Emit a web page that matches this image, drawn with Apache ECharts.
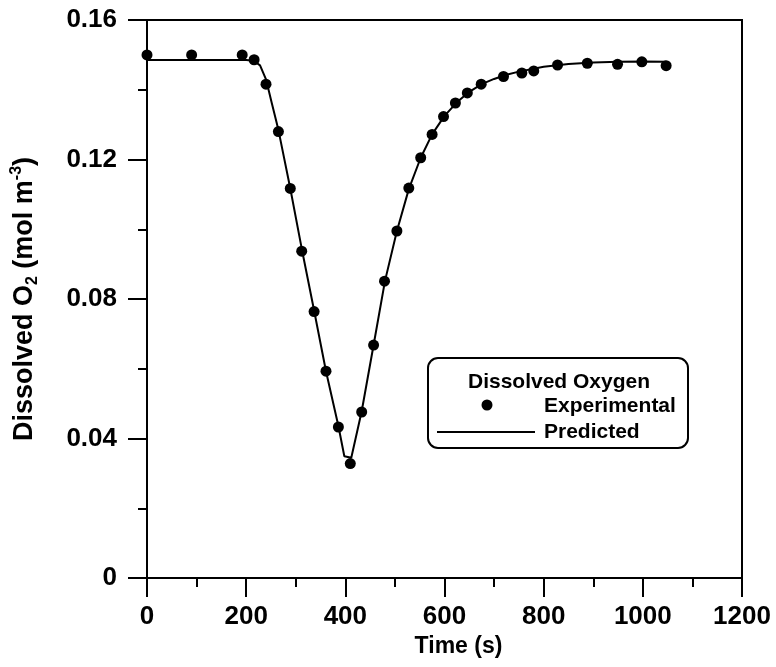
<!DOCTYPE html>
<html>
<head>
<meta charset="utf-8">
<script src="https://cdn.jsdelivr.net/npm/echarts@6/dist/echarts.min.js"></script>
<style>html,body{margin:0;padding:0;background:#fff;}#chart{width:776px;height:667px;}</style>
</head>
<body>
<div id="chart"></div>
<script>
const timeExp = [0, 90, 192, 216, 240, 265, 289, 312, 337, 361, 386, 410, 433, 457, 479, 504, 528, 552, 575, 598, 622, 646, 674, 719, 756, 780, 828, 888, 949, 998, 1047];
const o2Exp = [0.150, 0.150, 0.150, 0.1486, 0.1416, 0.128, 0.1117, 0.0937, 0.0764, 0.0593, 0.0433, 0.0328, 0.0476, 0.0668, 0.0851, 0.0995, 0.1118, 0.1205, 0.1272, 0.1323, 0.1362, 0.1391, 0.1416, 0.1438, 0.1448, 0.1454, 0.1471, 0.1476, 0.1473, 0.1480, 0.1469];
const timePred = [0, 200, 215, 228, 240, 252, 265, 289, 312, 337, 361, 386, 398, 412, 433, 457, 480, 504, 528, 552, 575, 600, 625, 650, 675, 700, 725, 750, 800, 850, 900, 950, 1000, 1047];
const o2Pred = [0.1485, 0.1485, 0.1483, 0.1470, 0.1430, 0.1360, 0.1285, 0.1117, 0.0945, 0.0767, 0.0593, 0.0436, 0.0349, 0.0345, 0.0478, 0.0668, 0.0852, 0.0995, 0.1115, 0.1205, 0.1272, 0.1325, 0.1364, 0.1394, 0.1416, 0.1431, 0.1443, 0.1452, 0.1466, 0.1474, 0.1478, 0.1480, 0.1481, 0.1480];
const xTicks = {min: 0, max: 1200, interval: 200};
const yTicks = {min: 0, max: 0.16, interval: 0.04};

const chart = echarts.init(document.getElementById('chart'));
const FONT = 'Liberation Sans, Arial, sans-serif';
const axisCommon = {
  axisLine: {show: true, lineStyle: {color: '#000', width: 2}},
  axisTick: {show: true, inside: false, length: 19, lineStyle: {color: '#000', width: 2}},
  minorTick: {show: true, splitNumber: 2, length: 9, lineStyle: {color: '#000', width: 2}},
  splitLine: {show: false},
  minorSplitLine: {show: false}
};
chart.setOption({
  animation: false,
  backgroundColor: '#fff',
  grid: {left: 147, right: 34, top: 20, bottom: 89, show: true, borderColor: '#000', borderWidth: 2, backgroundColor: 'transparent'},
  xAxis: Object.assign({
    type: 'value', min: xTicks.min, max: xTicks.max, interval: xTicks.interval,
    name: 'Time (s)', nameLocation: 'middle', nameGap: 50,
    nameTextStyle: {fontFamily: FONT, fontWeight: 'bold', fontSize: 23, color: '#000', padding: [0, 0, 0, 28]},
    axisLabel: {margin: 26, fontFamily: FONT, fontWeight: 'bold', fontSize: 26, color: '#000',
      formatter: v => String(v)}
  }, axisCommon),
  yAxis: Object.assign({
    type: 'value', min: yTicks.min, max: yTicks.max, interval: yTicks.interval,
    name: '{m|Dissolved O}{sub|2}{m| (mol m}{sup|-3}{m|)}', nameLocation: 'middle', nameGap: 106,
    nameTextStyle: {
      fontFamily: FONT, fontWeight: 'bold', fontSize: 27, color: '#000',
      rich: {
        m: {fontFamily: FONT, fontWeight: 'bold', fontSize: 27, color: '#000', lineHeight: 32},
        sub: {fontFamily: FONT, fontWeight: 'bold', fontSize: 16, color: '#000', verticalAlign: 'bottom', lineHeight: 32},
        sup: {fontFamily: FONT, fontWeight: 'bold', fontSize: 16, color: '#000', verticalAlign: 'top', lineHeight: 32}
      }
    },
    axisLabel: {margin: 30, fontFamily: FONT, fontWeight: 'bold', fontSize: 26, color: '#000',
      formatter: v => v === 0 ? '0' : v.toFixed(2)}
  }, axisCommon),
  series: [
    {name: 'Predicted', type: 'line', data: timePred.map((t, i) => [t, o2Pred[i]]), showSymbol: false, symbol: 'none',
     lineStyle: {color: '#000', width: 2}, z: 2},
    {name: 'Experimental', type: 'scatter', data: timeExp.map((t, i) => [t, o2Exp[i]]), symbol: 'circle', symbolSize: 11,
     itemStyle: {color: '#000', opacity: 1}, z: 3}
  ],
  graphic: [
    {type: 'rect', silent: true, shape: {x: 428, y: 358, width: 260, height: 90, r: 10}, style: {fill: '#fff', stroke: '#000', lineWidth: 2}, z: 10},
    {type: 'text', silent: true, x: 559, y: 382, style: {text: 'Dissolved Oxygen', font: 'bold 21px ' + FONT, fill: '#000', textAlign: 'center', textVerticalAlign: 'middle'}, z: 11},
    {type: 'circle', silent: true, shape: {cx: 487, cy: 405, r: 5.5}, style: {fill: '#000'}, z: 11},
    {type: 'text', silent: true, x: 544, y: 406, style: {text: 'Experimental', font: 'bold 21px ' + FONT, fill: '#000', textAlign: 'left', textVerticalAlign: 'middle'}, z: 11},
    {type: 'line', silent: true, shape: {x1: 437, y1: 432, x2: 535, y2: 432}, style: {stroke: '#000', lineWidth: 2}, z: 11},
    {type: 'text', silent: true, x: 544, y: 432, style: {text: 'Predicted', font: 'bold 21px ' + FONT, fill: '#000', textAlign: 'left', textVerticalAlign: 'middle'}, z: 11}
  ]
});
</script>
</body>
</html>
